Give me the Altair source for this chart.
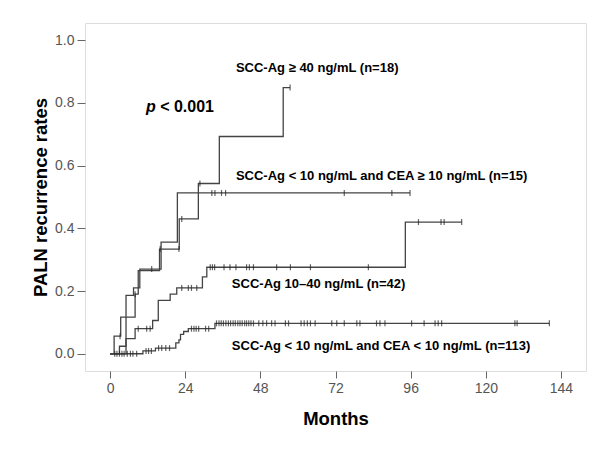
import altair as alt
import pandas as pd

# ---- step curves (time in months, cumulative recurrence rate) ----
A_t = [0, 1.3, 3.4, 8.0, 9.0, 15.8, 22.1, 28.2, 34.9, 55.3, 57.5]
A_v = [0, 0.056, 0.117, 0.19, 0.265, 0.334, 0.43, 0.543, 0.693, 0.849, 0.849]
A_cens = [3.2, 8.0, 16.0, 22.0, 22.9, 28.7, 57.5]

B_t = [0, 5.1, 7.5, 9.5, 16.3, 21.5, 95.8]
B_v = [0, 0.186, 0.21, 0.27, 0.356, 0.513, 0.513]
B_cens = [13.3, 32.5, 33.5, 35.6, 36.9, 74.8, 90.0, 95.8]

C_t = [0, 3.0, 5.1, 8.0, 13.6, 15.4, 19.2, 21.3, 29.5, 30.9, 94.3, 112.3]
C_v = [0, 0.024, 0.048, 0.08, 0.106, 0.17, 0.19, 0.21, 0.245, 0.276, 0.42, 0.42]
C_cens = [9.0, 11.7, 12.8, 22.9, 25.0, 26.0, 27.7, 32.0, 32.7, 33.4, 36.4, 38.3,
          40.2, 43.6, 44.5, 45.8, 53.2, 57.6, 64.0, 82.5, 98.5, 105.7, 106.7, 112.3]

D_t = [0, 10.5, 14.5, 21.0, 22.0, 22.5, 23.5, 25.0, 33.5, 140.3]
D_v = [0, 0.009, 0.018, 0.035, 0.044, 0.062, 0.071, 0.08, 0.097, 0.097]
D_cens = [1.5, 2.2, 3, 3.8, 4.5, 5.5, 6.5, 7.3, 8.5, 11.5, 12.3, 13.2, 15.5, 16.5,
          17.8, 19, 26, 26.8, 27.5, 28.3, 30.5, 31.5, 34, 34.8, 35.5, 36.2, 37, 37.8,
          38.5, 39.3, 40, 40.8, 41.5, 42.2, 43, 43.6, 44.3, 45, 45.8, 47.5, 48.8, 50,
          51.6, 52.7, 56, 57, 61, 62, 63, 64, 65.5, 70.8, 72.4, 74.8, 78.8, 79.8,
          85.1, 86.2, 87.8, 96.3, 100.3, 103.8, 104.8, 105.9, 129.3, 130, 140.3]

groups = ["A", "B", "C", "D"]
curves = {"A": (A_t, A_v, A_cens), "B": (B_t, B_v, B_cens),
          "C": (C_t, C_v, C_cens), "D": (D_t, D_v, D_cens)}

# label texts and anchor points (months, rate)
label_text = ["SCC-Ag \u2265 40 ng/mL (n=18)",
              "SCC-Ag < 10 ng/mL and CEA \u2265 10 ng/mL (n=15)",
              "SCC-Ag 10\u201340 ng/mL (n=42)",
              "SCC-Ag < 10 ng/mL and CEA < 10 ng/mL (n=113)"]
label_x = [40.2, 40.2, 38.9, 38.9]
label_y = [0.913, 0.568, 0.223, 0.026]


def step_value(ts, vs, t):
    val = vs[0]
    for ti, vi in zip(ts, vs):
        if ti <= t:
            val = vi
    return val


line_rows, cens_rows = [], []
for g in groups:
    ts, vs, cs = curves[g]
    for i, (t, v) in enumerate(zip(ts, vs)):
        line_rows.append({"g": g, "t": t, "v": v, "o": i})
    for c in cs:
        cens_rows.append({"g": g, "t": c, "v": step_value(ts, vs, c)})

lines_df = pd.DataFrame(line_rows)
cens_df = pd.DataFrame(cens_rows)
labels_df = pd.DataFrame({"txt": label_text, "x": label_x, "y": label_y})

FONT = "Liberation Sans"
GRAY = "#444444"

xscale = alt.Scale(domain=[-8, 152], nice=False, zero=False)
yscale = alt.Scale(domain=[-0.055, 1.055], nice=False, zero=False)

xax = alt.Axis(values=[0, 24, 48, 72, 96, 120, 144], title="Months", grid=False,
               domain=False, tickSize=7, tickColor="#666666", labelColor="#555555",
               labelFont=FONT, labelFontSize=14, labelPadding=3,
               titleFont=FONT, titleFontSize=18.5, titleFontWeight="bold",
               titleColor="#000000", titlePadding=14)
yax = alt.Axis(values=[0, 0.2, 0.4, 0.6, 0.8, 1.0], format=".1f",
               title="PALN recurrence rates", grid=False, domain=False,
               tickSize=8, tickColor="#666666", labelColor="#555555",
               labelFont=FONT, labelFontSize=14, labelPadding=3,
               titleFont=FONT, titleFontSize=18.5, titleFontWeight="bold",
               titleColor="#000000", titlePadding=4)

line = alt.Chart(lines_df).mark_line(interpolate="step-after", color=GRAY,
                                     strokeWidth=1.3).encode(
    x=alt.X("t:Q", scale=xscale, axis=xax),
    y=alt.Y("v:Q", scale=yscale, axis=yax),
    detail="g:N",
    order="o:Q",
)

cens = alt.Chart(cens_df).mark_point(shape="M0,-1L0,1", size=36, color="#222222",
                                     strokeWidth=1.2, filled=False).encode(
    x=alt.X("t:Q", scale=xscale),
    y=alt.Y("v:Q", scale=yscale),
)

labels = alt.Chart(labels_df).mark_text(align="left", baseline="middle", font=FONT,
                                        fontSize=13, fontWeight="bold",
                                        color="#000000").encode(
    x=alt.X("x:Q", scale=xscale),
    y=alt.Y("y:Q", scale=yscale),
    text="txt:N",
)

p_df = pd.DataFrame({"x": [11.5], "y": [0.788], "txt": ["p"]})
p2_df = pd.DataFrame({"x": [16.0], "y": [0.788], "txt": ["< 0.001"]})
ptxt = alt.Chart(p_df).mark_text(align="left", baseline="middle", font=FONT,
                                 fontSize=16, fontWeight="bold", fontStyle="italic",
                                 color="#000000").encode(
    x=alt.X("x:Q", scale=xscale), y=alt.Y("y:Q", scale=yscale), text="txt:N")
p2txt = alt.Chart(p2_df).mark_text(align="left", baseline="middle", font=FONT,
                                   fontSize=16, fontWeight="bold",
                                   color="#000000").encode(
    x=alt.X("x:Q", scale=xscale), y=alt.Y("y:Q", scale=yscale), text="txt:N")

chart = alt.layer(line, cens, labels, ptxt, p2txt).properties(
    width=501, height=348,
    autosize=alt.AutoSizeParams(type="none"),
    padding={"left": 77, "top": 15, "right": 6, "bottom": 64},
).configure_view(stroke="#666666", strokeWidth=1.5).configure(background="white")

chart.save("out.html", embed_options={"renderer": "svg", "actions": False})
